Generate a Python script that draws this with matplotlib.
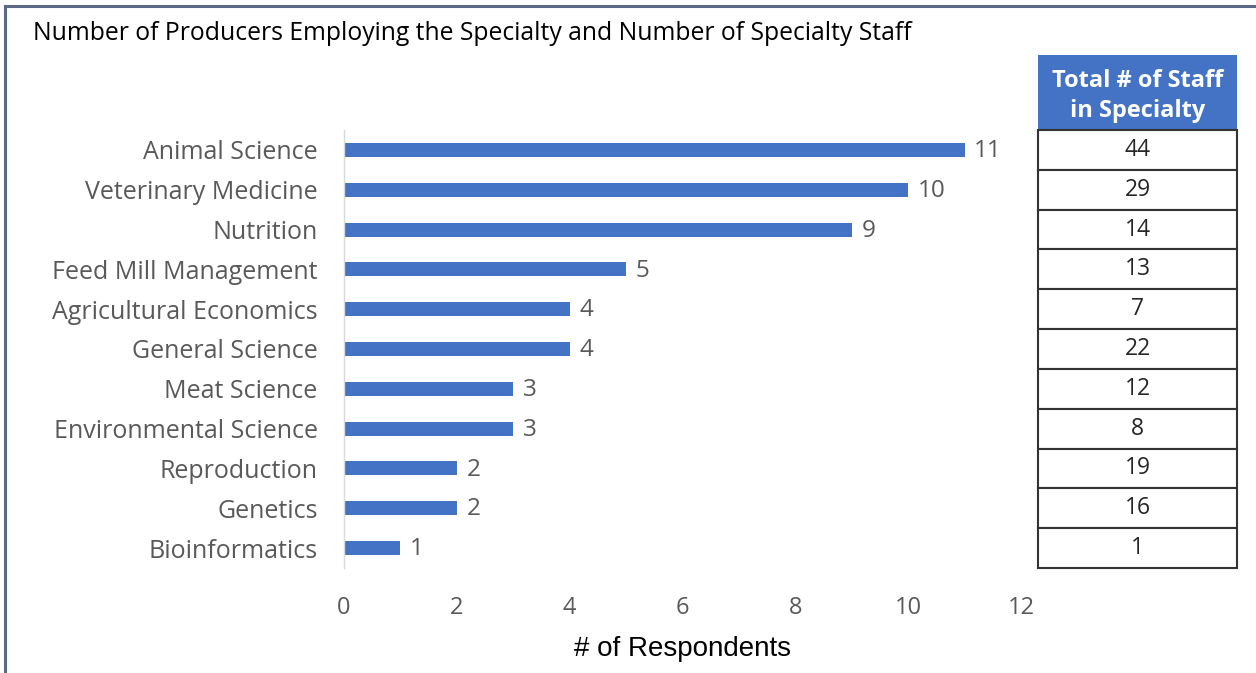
import matplotlib
matplotlib.use("Agg")
import matplotlib.pyplot as plt
from matplotlib.patches import Rectangle
from matplotlib.lines import Line2D
from matplotlib import font_manager

# Chart data
specialties = [
    "Animal Science", "Veterinary Medicine", "Nutrition", "Feed Mill Management",
    "Agricultural Economics", "General Science", "Meat Science",
    "Environmental Science", "Reproduction", "Genetics", "Bioinformatics",
]
respondents = [11, 10, 9, 5, 4, 4, 3, 3, 2, 2, 1]
staff_totals = [44, 29, 14, 13, 7, 22, 12, 8, 19, 16, 1]
x_ticks = [0, 2, 4, 6, 8, 10, 12]

title_text = "Number of Producers Employing the Specialty and Number of Specialty Staff"
xlabel_text = "# of Respondents"
table_header = "Total # of Staff\nin Specialty"

installed = {f.name for f in font_manager.fontManager.ttflist}
body_font = "Open Sans" if "Open Sans" in installed else "DejaVu Sans"
label_font = "Liberation Sans" if "Liberation Sans" in installed else "DejaVu Sans"

BLUE = "#4472C4"
GREY_TXT = "#595959"
FRAME = "#5b6b86"

W, H = 1256, 673
fig = plt.figure(figsize=(W / 100, H / 100), dpi=100)
fig.patch.set_facecolor("white")


def fx(px):
    return px / W


def fy(py):
    return 1 - py / H


# Outer frame (top and left edges)
fig.add_artist(Line2D([fx(5), 1.0], [fy(6), fy(6)], transform=fig.transFigure,
                      color=FRAME, linewidth=2.2))
fig.add_artist(Line2D([fx(5), fx(5)], [0.0, fy(6)], transform=fig.transFigure,
                      color=FRAME, linewidth=2.2))

fig.text(fx(33), fy(33), title_text, fontsize=17.8, family=body_font,
         color="black", va="center", ha="left")

# Bar chart
top_px, bot_px = 130, 568
ax = fig.add_axes([fx(344), fy(bot_px), fx(1021) - fx(344), (bot_px - top_px) / H])
n = len(specialties)
ypos = list(range(n))
ax.barh(ypos, respondents, height=0.35, color=BLUE)
ax.set_ylim(n - 0.5, -0.5)
ax.set_xlim(0, 12)
ax.set_yticks(ypos)
ax.set_yticklabels(specialties, fontsize=18, family=body_font, color=GREY_TXT)
ax.set_xticks(x_ticks)
ax.set_xticklabels([str(t) for t in x_ticks], fontsize=17, family=body_font, color=GREY_TXT)
ax.tick_params(axis="y", length=0, pad=19)
ax.tick_params(axis="x", length=0, pad=20.5)
for side in ("top", "right", "bottom"):
    ax.spines[side].set_visible(False)
ax.spines["left"].set_color("#d9d9d9")
ax.spines["left"].set_linewidth(1.0)
ax.set_xlabel(xlabel_text, fontsize=20, family=label_font, color="black", labelpad=11)

for y, v in zip(ypos, respondents):
    ax.text(v + 0.17, y + 0.03, str(v), fontsize=17.5, family=body_font,
            color=GREY_TXT, va="center", ha="left")

# Staff table aligned with the bar rows
row_px = (bot_px - top_px) / n
head_top = 55
header_units = (top_px - head_top) / row_px
tax = fig.add_axes([fx(1038), fy(bot_px), fx(1237) - fx(1038), (bot_px - head_top) / H])
tax.set_xlim(0, 1)
tax.set_ylim(n - 0.5, -0.5 - header_units)
tax.axis("off")
tax.add_patch(Rectangle((0, -0.5 - header_units), 1, header_units,
                        facecolor=BLUE, edgecolor="none", clip_on=False))
tax.text(0.5, -0.5 - header_units / 2 + 0.08, table_header, ha="center", va="center",
         color="white", fontsize=17, fontweight="bold", family=body_font,
         linespacing=1.35)
for y, s in zip(ypos, staff_totals):
    tax.add_patch(Rectangle((0, y - 0.5), 1, 1, facecolor="white",
                            edgecolor="#333333", linewidth=1.5, clip_on=False))
    tax.text(0.5, y, str(s), ha="center", va="center", fontsize=16.5,
             family=body_font, color="#262626")

fig.savefig("out.png", dpi=100, facecolor="white")
